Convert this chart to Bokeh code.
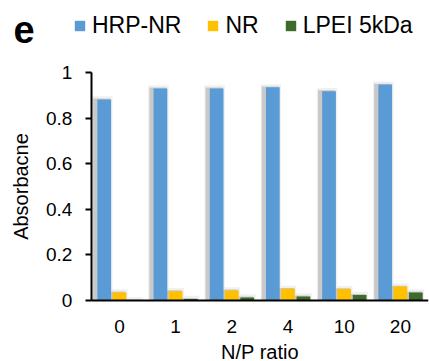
from bokeh.plotting import figure
from bokeh.models import (ColumnDataSource, FixedTicker, NumeralTickFormatter,
                          Legend, LegendItem, Label, Range1d)
from bokeh.transform import dodge
from bokeh.embed import file_html
from bokeh.resources import INLINE

ratios = ["0", "1", "2", "4", "10", "20"]
hrp_nr = [0.882, 0.930, 0.930, 0.935, 0.918, 0.947]
nr = [0.035, 0.041, 0.044, 0.051, 0.050, 0.061]
lpei = [0.0, 0.007, 0.013, 0.018, 0.024, 0.035]
y_ticks = [0, 0.2, 0.4, 0.6, 0.8, 1]
series_names = ["HRP-NR", "NR", "LPEI 5kDa"]

FONT = "Liberation Sans"
BLUE = "#5b9bd5"
YELLOW = "#ffc000"
GREEN = "#3e6b2b"
colors = [BLUE, YELLOW, GREEN]

idx = list(range(len(ratios)))
src = ColumnDataSource(dict(i=idx, r=ratios, hrp=hrp_nr, nr=nr, lpei=lpei))

# The frame covers the whole picture; both axes are pinned inside it so that the
# legend, the panel letter and all axis texts are drawn without being clipped.
p = figure(width=429, height=361, x_range=Range1d(-2.116, 5.5),
           y_range=Range1d(-61 / 228, 300 / 228), output_backend="svg", toolbar_location=None,
           min_border_left=0, min_border_right=1, min_border_top=0, min_border_bottom=0)
p.outline_line_color = None
p.xgrid.grid_line_color = None
p.ygrid.grid_line_color = None

W = 0.245
offs = [-0.27, 0.0, 0.275]
cols = ["hrp", "nr", "lpei"]

for off, c in zip(offs, cols):
    p.vbar(x=dodge("i", off - 0.035), top=dodge(c, 0.014), bottom=0,
           width=W + 0.12, source=src, fill_color="#f0f0f0", line_color=None)
    p.vbar(x=dodge("i", off - 0.045), top=dodge(c, 0.004), bottom=0,
           width=W + 0.06, source=src, fill_color="#c9c9c9", line_color=None)

renderers = []
for off, c, col in zip(offs, cols, colors):
    renderers.append(p.vbar(x=dodge("i", off), top=c, bottom=0, width=W,
                            source=src, fill_color=col, line_color=None))

p.yaxis.fixed_location = -0.5
p.yaxis.bounds = (0, 1)
p.yaxis.ticker = FixedTicker(ticks=y_ticks)
p.yaxis.formatter = NumeralTickFormatter(format="0.[0]")
p.yaxis.axis_label = "Absorbacne"
p.xaxis.fixed_location = 0
p.xaxis.bounds = (-0.5, 5.5)
p.xaxis.ticker = FixedTicker(ticks=idx)
p.xaxis.major_label_overrides = {i: r for i, r in zip(idx, ratios)}
p.xaxis.axis_label = "N/P ratio"
for ax in (p.xaxis[0], p.yaxis[0]):
    ax.axis_line_color = "black"
    ax.axis_line_width = 2
    ax.major_label_text_font = FONT
    ax.major_label_text_font_size = "19px"
    ax.major_label_text_color = "black"
    ax.axis_label_text_font = FONT
    ax.axis_label_text_font_size = "20px"
    ax.axis_label_text_font_style = "normal"
    ax.axis_label_text_color = "black"
    ax.minor_tick_line_color = None
p.yaxis.major_tick_out = 6
p.yaxis.major_tick_in = 0
p.yaxis.major_tick_line_width = 2
p.yaxis.major_tick_line_color = "black"
p.yaxis.major_label_standoff = 13
p.yaxis.axis_label_standoff = 11
p.xaxis.major_tick_line_color = None
p.xaxis.major_tick_out = 0
p.xaxis.major_tick_in = 0
p.xaxis.major_label_standoff = 19
p.xaxis.axis_label_standoff = 5

legend = Legend(items=[LegendItem(label=n, renderers=[r]) for n, r in zip(series_names, renderers)],
                orientation="horizontal", location=(73, 322),
                border_line_color=None, background_fill_alpha=0,
                label_text_font=FONT, label_text_font_size="23px", label_text_color="black",
                glyph_width=13, glyph_height=13, label_standoff=6, spacing=25,
                padding=0, margin=0)
p.add_layout(legend, "center")
p.add_layout(Label(x=13, y=332, x_units="screen", y_units="screen", text="e",
                   text_baseline="alphabetic",
                   text_font=FONT, text_font_style="bold", text_font_size="38px",
                   text_color="black"))

open("out.html", "w").write(file_html(p, INLINE))
